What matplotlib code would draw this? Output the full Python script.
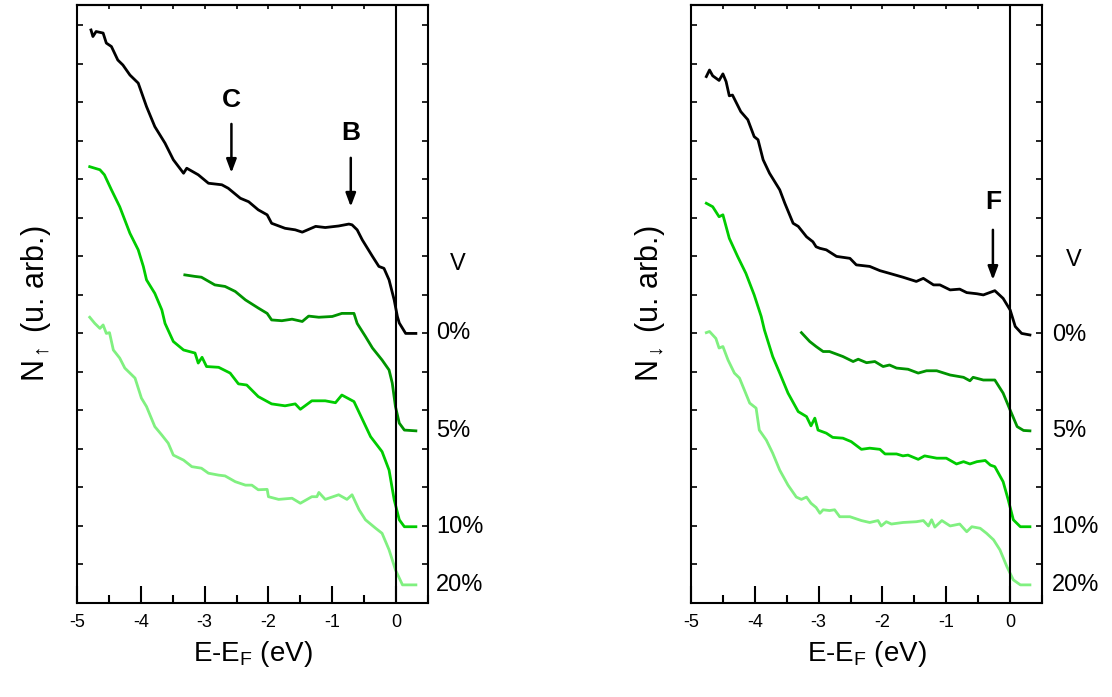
import numpy as np
import matplotlib
matplotlib.use("Agg")
import matplotlib.pyplot as plt

plt.rcParams['font.family'] = ['Liberation Sans', 'DejaVu Sans']
plt.rcParams['mathtext.fontset'] = 'custom'
plt.rcParams['mathtext.rm'] = 'Liberation Sans'
plt.rcParams['mathtext.it'] = 'Liberation Sans'
plt.rcParams['axes.unicode_minus'] = False

# ---- spin up (left panel) ----
up_x_0 = [-4.78, -4.75, -4.70, -4.59, -4.54, -4.46, -4.36, -4.28, -4.17, -4.04, -3.91, -3.78,
          -3.62, -3.49, -3.33, -3.28, -3.10, -2.94, -2.73, -2.63, -2.44, -2.31, -2.16, -2.02,
          -1.95, -1.74, -1.58, -1.47, -1.26, -1.11, -0.90, -0.74, -0.69, -0.61, -0.53, -0.37,
          -0.27, -0.19, -0.11, -0.03, 0.02, 0.05, 0.15, 0.31]
up_y_0 = [14.88, 14.71, 14.84, 14.80, 14.54, 14.45, 14.10, 13.97, 13.71, 13.50, 12.89, 12.37,
          11.94, 11.51, 11.16, 11.29, 11.12, 10.90, 10.86, 10.77, 10.51, 10.42, 10.21, 10.08,
          9.86, 9.73, 9.69, 9.63, 9.78, 9.75, 9.79, 9.84, 9.82, 9.69, 9.43, 9.00,
          8.74, 8.69, 8.39, 7.87, 7.44, 7.27, 7.00, 7.00]

up_x_5 = [-3.31, -3.15, -3.05, -2.84, -2.68, -2.52, -2.36, -2.16, -2.02, -1.95, -1.79, -1.63,
          -1.47, -1.37, -1.21, -1.00, -0.85, -0.66, -0.61, -0.48, -0.37, -0.22, -0.11, -0.06,
          -0.01, 0.05, 0.13, 0.31]
up_y_5 = [8.52, 8.48, 8.46, 8.26, 8.22, 8.09, 7.87, 7.66, 7.52, 7.35, 7.33, 7.37,
          7.31, 7.45, 7.42, 7.44, 7.52, 7.52, 7.26, 6.92, 6.62, 6.31, 6.05, 5.71,
          5.10, 4.67, 4.49, 4.47]

up_x_10 = [-4.80, -4.64, -4.57, -4.46, -4.33, -4.17, -4.04, -3.96, -3.91, -3.78, -3.67, -3.62,
           -3.49, -3.33, -3.15, -3.10, -3.04, -2.97, -2.78, -2.60, -2.47, -2.34, -2.16, -1.95,
           -1.74, -1.58, -1.50, -1.32, -1.11, -0.95, -0.85, -0.66, -0.56, -0.40, -0.22, -0.11,
           -0.03, 0.05, 0.13, 0.31]
up_y_10 = [11.33, 11.25, 11.12, 10.73, 10.29, 9.60, 9.17, 8.74, 8.39, 8.04, 7.61, 7.26,
           6.79, 6.57, 6.49, 6.23, 6.38, 6.14, 6.12, 5.97, 5.69, 5.66, 5.36, 5.17,
           5.12, 5.17, 5.03, 5.25, 5.25, 5.20, 5.40, 5.23, 4.88, 4.32, 3.93, 3.45,
           2.68, 2.16, 1.98, 1.98]

up_x_20 = [-4.80, -4.72, -4.64, -4.59, -4.54, -4.49, -4.43, -4.33, -4.25, -4.09, -3.99, -3.91,
           -3.78, -3.67, -3.57, -3.49, -3.33, -3.20, -3.05, -2.94, -2.78, -2.68, -2.52, -2.36,
           -2.26, -2.16, -2.02, -2.00, -1.84, -1.63, -1.50, -1.32, -1.24, -1.21, -1.11, -0.90,
           -0.77, -0.69, -0.58, -0.48, -0.32, -0.22, -0.11, -0.01, 0.10, 0.31]
up_y_20 = [7.42, 7.26, 7.13, 7.22, 7.00, 7.02, 6.57, 6.36, 6.10, 5.84, 5.32, 5.10,
           4.58, 4.36, 4.15, 3.84, 3.71, 3.54, 3.50, 3.37, 3.32, 3.30, 3.15, 3.06,
           3.06, 2.94, 2.95, 2.76, 2.69, 2.72, 2.59, 2.76, 2.76, 2.87, 2.69, 2.81,
           2.69, 2.81, 2.42, 2.16, 1.94, 1.81, 1.38, 0.86, 0.47, 0.47]

# ---- spin down (right panel) ----
dn_x_0 = [-4.76, -4.71, -4.66, -4.56, -4.50, -4.45, -4.40, -4.35, -4.22, -4.11, -4.01, -3.95,
          -3.87, -3.77, -3.61, -3.53, -3.40, -3.32, -3.19, -3.09, -3.04, -2.98, -2.88, -2.72,
          -2.51, -2.41, -2.20, -2.04, -1.89, -1.68, -1.47, -1.36, -1.20, -1.10, -0.94, -0.79,
          -0.68, -0.52, -0.42, -0.24, -0.11, 0.00, 0.08, 0.18, 0.31]
dn_y_0 = [13.67, 13.84, 13.69, 13.57, 13.74, 13.54, 13.17, 13.19, 12.76, 12.55, 12.11, 12.03,
          11.51, 11.16, 10.73, 10.38, 9.86, 9.78, 9.51, 9.38, 9.25, 9.21, 9.17, 9.00,
          8.95, 8.78, 8.74, 8.63, 8.56, 8.46, 8.35, 8.43, 8.26, 8.26, 8.13, 8.15,
          8.06, 8.03, 8.00, 8.11, 7.91, 7.61, 7.18, 7.00, 6.96]

dn_x_5 = [-3.27, -3.14, -3.04, -2.93, -2.83, -2.62, -2.46, -2.38, -2.25, -2.12, -1.99, -1.89,
          -1.78, -1.60, -1.44, -1.31, -1.15, -0.94, -0.73, -0.63, -0.58, -0.42, -0.24, -0.11,
          0.00, 0.11, 0.21, 0.31]
dn_y_5 = [7.02, 6.79, 6.66, 6.53, 6.53, 6.40, 6.27, 6.33, 6.24, 6.27, 6.14, 6.18,
          6.10, 6.07, 5.97, 6.03, 6.03, 5.92, 5.86, 5.77, 5.86, 5.79, 5.79, 5.45,
          5.01, 4.58, 4.48, 4.47]

dn_x_10 = [-4.76, -4.66, -4.56, -4.50, -4.40, -4.27, -4.14, -4.01, -3.90, -3.85, -3.72, -3.61,
           -3.48, -3.32, -3.19, -3.12, -3.06, -3.01, -2.88, -2.78, -2.62, -2.49, -2.33, -2.20,
           -2.04, -1.96, -1.78, -1.68, -1.60, -1.44, -1.34, -1.15, -1.00, -0.84, -0.73, -0.63,
           -0.52, -0.39, -0.31, -0.24, -0.11, -0.03, 0.05, 0.16, 0.31]
dn_y_10 = [10.38, 10.29, 10.03, 10.08, 9.47, 9.00, 8.56, 8.00, 7.44, 7.09, 6.40, 5.97,
           5.45, 4.97, 4.84, 4.60, 4.80, 4.49, 4.41, 4.30, 4.28, 4.19, 3.99, 4.02,
           3.99, 3.87, 3.87, 3.82, 3.84, 3.73, 3.82, 3.76, 3.76, 3.61, 3.67, 3.61,
           3.67, 3.70, 3.58, 3.54, 3.15, 2.68, 2.16, 1.98, 1.98]

dn_x_20 = [-4.76, -4.71, -4.61, -4.56, -4.50, -4.42, -4.32, -4.24, -4.08, -3.98, -3.93, -3.82,
           -3.72, -3.61, -3.48, -3.35, -3.27, -3.19, -3.12, -3.04, -2.98, -2.93, -2.83, -2.75,
           -2.67, -2.51, -2.33, -2.20, -2.07, -2.02, -1.94, -1.86, -1.68, -1.47, -1.36, -1.28,
           -1.23, -1.18, -1.07, -0.94, -0.79, -0.68, -0.60, -0.47, -0.37, -0.26, -0.16, -0.05,
           0.05, 0.16, 0.31]
dn_y_20 = [7.02, 7.05, 6.87, 6.62, 6.66, 6.31, 5.97, 5.84, 5.19, 5.06, 4.49, 4.23,
           3.89, 3.45, 3.06, 2.75, 2.69, 2.75, 2.59, 2.48, 2.33, 2.42, 2.40, 2.42,
           2.24, 2.24, 2.14, 2.09, 2.14, 2.00, 2.11, 2.05, 2.09, 2.11, 2.14, 2.00,
           2.16, 1.97, 2.14, 2.00, 2.05, 1.85, 1.98, 1.94, 1.81, 1.64, 1.38, 0.94,
           0.60, 0.47, 0.47]

conc_labels = ["0%", "5%", "10%", "20%"]
colors = ["black", "#009400", "#00cc00", "#80f080"]

up_curves = [(up_x_0, up_y_0), (up_x_5, up_y_5), (up_x_10, up_y_10), (up_x_20, up_y_20)]
dn_curves = [(dn_x_0, dn_y_0), (dn_x_5, dn_y_5), (dn_x_10, dn_y_10), (dn_x_20, dn_y_20)]

# arrows: (label, x, y_text, y_start, y_end)
up_marks = [("C", -2.58, 13.06, 12.44, 11.17), ("B", -0.71, 12.21, 11.56, 10.29)]
dn_marks = [("F", -0.27, 10.42, 9.69, 8.39)]

fig = plt.figure(figsize=(11.12, 6.97), dpi=100)
ax1 = fig.add_axes([0.0692, 0.1349, 0.3157, 0.858])
ax2 = fig.add_axes([0.6214, 0.1349, 0.3157, 0.858])

panels = [(ax1, up_curves, up_marks, r"N$_{\uparrow}$ (u. arb.)", 0.63, 8.8),
          (ax2, dn_curves, dn_marks, r"N$_{\downarrow}$ (u. arb.)", 0.65, 8.9)]

for ax, curves, marks, ylab, xl, yv in panels:
    for i, (xs, ys) in enumerate(curves):
        ax.plot(xs, ys, color=colors[i], lw=2.0)
        ax.text(xl, ys[-1], conc_labels[i], fontsize=17,
                va="center", ha="left", clip_on=False)
    ax.axvline(0, color="black", lw=1.5)
    ax.text(xl + 0.22, yv, "V", fontsize=17, va="center", ha="left")
    for lab, x, yt, y0, y1 in marks:
        ax.text(x, yt, lab, fontsize=19, fontweight="bold", ha="center", va="center")
        ax.annotate("", xy=(x, y1), xytext=(x, y0),
                    arrowprops=dict(arrowstyle="-|>,head_length=0.8,head_width=0.3",
                                    color="black", lw=1.8, shrinkA=0, shrinkB=0))
    ax.set_xlim(-5, 0.5)
    ax.set_ylim(0, 15.53)
    ax.set_xticks([-5, -4, -3, -2, -1, 0])
    ax.set_xticks(np.arange(-4.5, 0.6, 1.0), minor=True)
    ax.set_yticks(np.arange(1, 16, 1))
    ax.set_yticklabels([])
    ax.tick_params(axis="x", which="major", direction="in", length=12, width=1.5,
                   labelsize=13, pad=8)
    ax.tick_params(axis="x", which="minor", direction="in", length=6, width=1.5)
    ax.tick_params(axis="y", which="major", direction="in", length=4, width=1.2,
                   left=True, right=True)
    top = ax.secondary_xaxis("top")
    top.set_xticks(np.arange(-4.5, 0.6, 0.5))
    top.tick_params(direction="in", length=3, width=1.2, labeltop=False)
    top.set_xticklabels([])
    for s in ax.spines.values():
        s.set_linewidth(1.5)
    top.spines["top"].set_linewidth(1.5)
    ax.set_xlabel(r"E-E$_F$ (eV)", fontsize=20, labelpad=6)
    ax.set_ylabel(ylab, fontsize=22, labelpad=14)

fig.savefig("out.png", dpi=100)
